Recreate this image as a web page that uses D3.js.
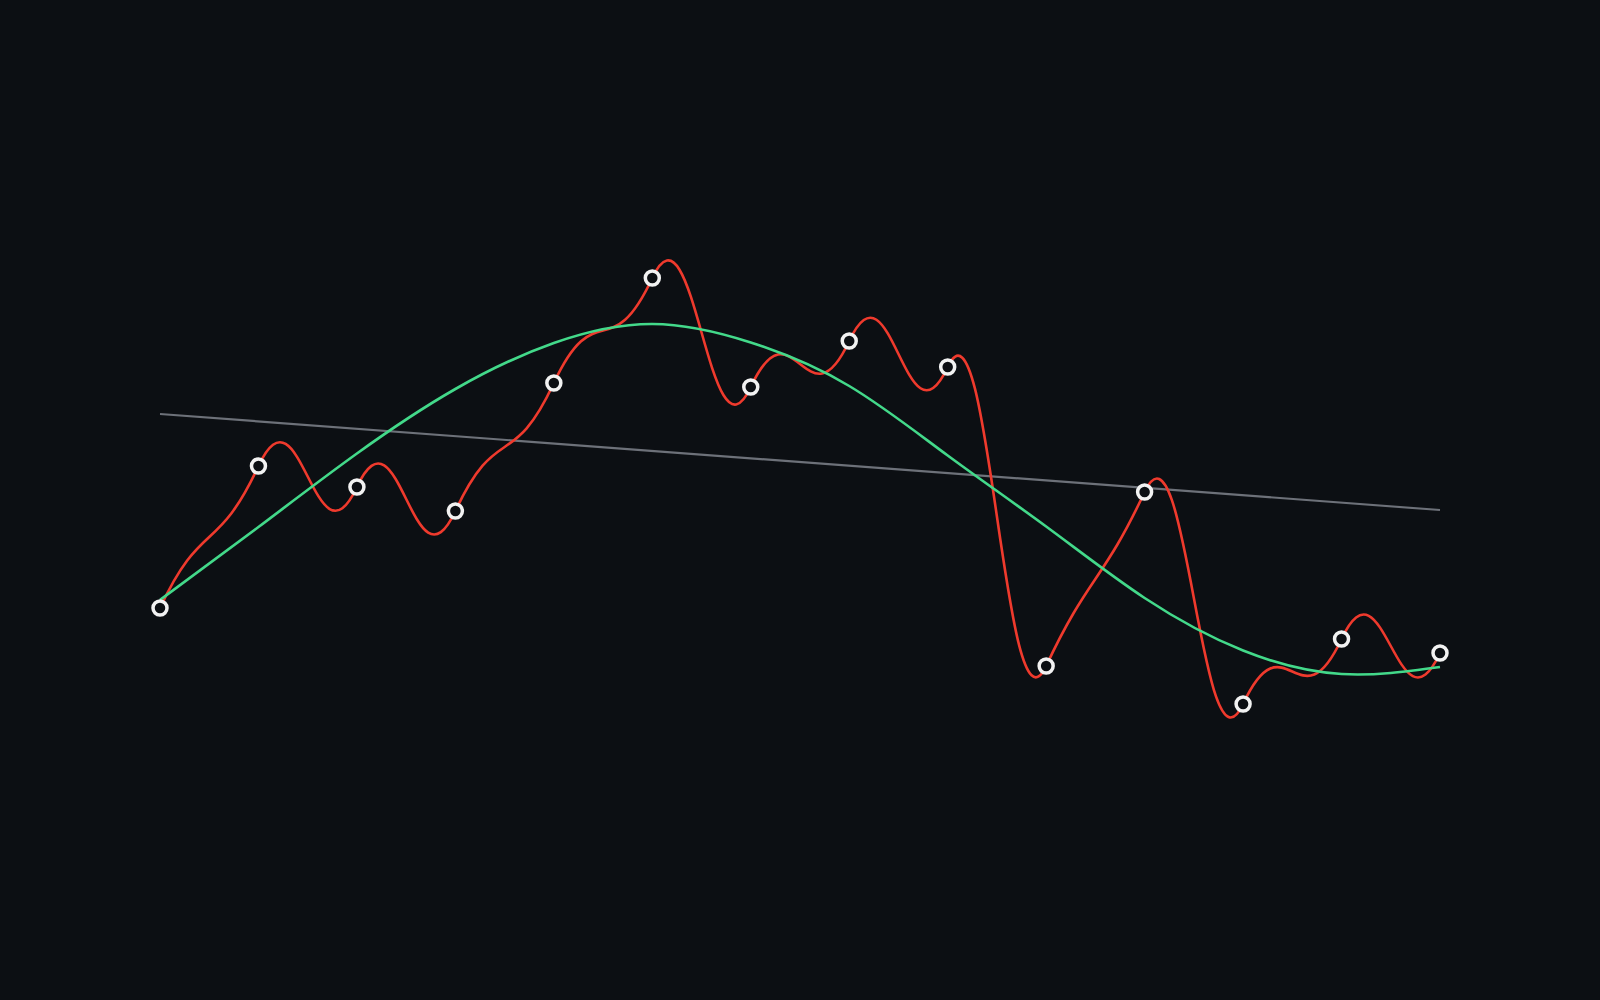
<!DOCTYPE html>
<html>
<head>
<meta charset="utf-8">
<script src="https://cdn.jsdelivr.net/npm/d3@7"></script>
<style>
  html, body { margin: 0; padding: 0; background: #0c0f13; }
  svg { display: block; }
</style>
</head>
<body>
<svg id="chart"></svg>
<script>
// series values (arbitrary units, 0-100)
const steps = d3.range(14);
const signal = [39.2, 53.4, 51.3, 48.9, 61.7, 72.2, 61.3, 65.9, 63.3, 33.4, 50.8, 29.6, 36.1, 34.7];
const smooth = [40.0, 47.3, 54.65, 61.1, 65.7, 67.6, 65.75, 61.4, 54.45, 47.35, 40.2, 34.95, 32.6, 33.3];
const baselineSteps = [0, 13];
const baseline = [58.6, 49.0];

const width = 1600;
const height = 1000;

const svg = d3.select('#chart')
    .attr('width', width)
    .attr('height', height);

svg.append('rect')
    .attr('width', width)
    .attr('height', height)
    .attr('fill', '#0c0f13');

const x = d3.scaleLinear().domain([0, 13]).range([160, 1440]);
const y = d3.scaleLinear().domain([0, 100]).range([height, 0]);

// wobbly bezier: every control point leans the same way (up and to the right)
const leanX = 42, leanY = 90;
function curveLean(context) {
    let x0, y0, n;
    return {
        areaStart() {}, areaEnd() {},
        lineStart() { n = 0; },
        lineEnd() {},
        point(px, py) {
            if (n === 0) context.moveTo(px, py);
            else context.bezierCurveTo(x0 + leanX, y0 - leanY, px - leanX, py + leanY, px, py);
            x0 = px; y0 = py; n++;
        }
    };
}

const baseLine = d3.line()
    .x((d, i) => x(baselineSteps[i]))
    .y(d => y(d));

const smoothLine = d3.line()
    .x((d, i) => x(steps[i]))
    .y(d => y(d))
    .curve(d3.curveNatural);

const signalLine = d3.line()
    .x((d, i) => x(steps[i]))
    .y(d => y(d))
    .curve(curveLean);

svg.append('path')
    .datum(baseline)
    .attr('d', baseLine)
    .attr('fill', 'none')
    .attr('stroke', '#6d7179')
    .attr('stroke-width', 2.2);

svg.append('path')
    .datum(signal)
    .attr('d', signalLine)
    .attr('fill', 'none')
    .attr('stroke', '#ef3a2d')
    .attr('stroke-width', 2.6);

svg.append('path')
    .datum(smooth)
    .attr('d', smoothLine)
    .attr('fill', 'none')
    .attr('stroke', '#43d98a')
    .attr('stroke-width', 2.6);

svg.selectAll('.dot')
    .data(signal)
    .join('circle')
    .attr('class', 'dot')
    .attr('cx', (d, i) => x(steps[i]))
    .attr('cy', d => y(d))
    .attr('r', 7)
    .attr('fill', '#0c0f13')
    .attr('stroke', '#f2f2f2')
    .attr('stroke-width', 3.5);
</script>
</body>
</html>
